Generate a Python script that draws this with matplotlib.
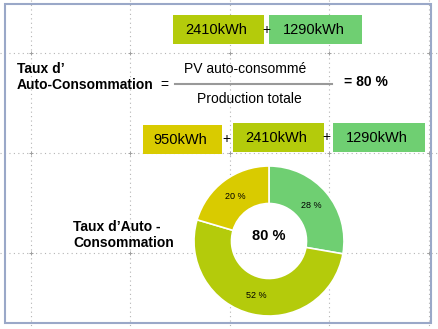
import matplotlib.pyplot as plt
from matplotlib.patches import Rectangle

plt.rcParams['font.family'] = ['Liberation Sans', 'DejaVu Sans']

# energy values (kWh)
sources = ["Réseau", "PV autoconsommé", "PV injecté"]
energy = [950, 2410, 1290]
colors = ["#d9cb00", "#b4cb0b", "#6fcf72"]
grid_x = [31, 130, 230, 329, 429]
grid_y = [53, 153, 253]

total = sum(energy)
taux = (energy[1] + energy[2]) / total * 100

fig = plt.figure(figsize=(4.38, 3.29), dpi=100)
ax = fig.add_axes([0, 0, 1, 1])
ax.set_xlim(0, 438)
ax.set_ylim(329, 0)
ax.axis("off")

# dotted background grid
for gx in grid_x:
    ax.plot([gx, gx], [0, 329], color="#b4b4b4", lw=0.8, ls=(0, (1, 3)), zorder=0)
for gy in grid_y:
    ax.plot([0, 438], [gy, gy], color="#b4b4b4", lw=0.8, ls=(0, (1, 3)), zorder=0)
for gx in grid_x:
    for gy in grid_y:
        ax.plot(gx, gy, marker="+", ms=3, mew=0.7, color="#a0a0a0", zorder=0)

# frame
ax.add_patch(Rectangle((5, 4), 426, 319, fill=False, ec="#9aa8c8", lw=1.5, zorder=1))

def box(x0, y0, x1, y1, c, txt, fs):
    ax.add_patch(Rectangle((x0, y0), x1 - x0, y1 - y0, fc=c, ec="none", zorder=2))
    ax.text((x0 + x1) / 2 - 2, (y0 + y1) / 2, txt, ha="center", va="center", fontsize=fs, zorder=3)

# numerator boxes
box(173, 15, 264, 44, colors[1], f"{energy[1]}kWh", 10.5)
ax.text(266, 30, "+", ha="center", va="center", fontsize=10)
box(269, 15, 362, 44, colors[2], f"{energy[2]}kWh", 10.5)

# formula
ax.text(17, 69, "Taux d’", ha="left", va="center", fontsize=10, fontweight="bold")
ax.text(17, 85, "Auto-Consommation", ha="left", va="center", fontsize=10, fontweight="bold")
ax.text(160, 85, "=", ha="left", va="center", fontsize=10)
ax.plot([175, 332], [84, 84], color="#999999", lw=1.5)
ax.text(245, 69, "PV auto-consommé", ha="center", va="center", fontsize=10)
ax.text(249, 99, "Production totale", ha="center", va="center", fontsize=10)
ax.text(344, 82, f"= {taux:.0f} %", ha="left", va="center", fontsize=10, fontweight="bold")

# denominator boxes
box(143, 125, 222, 154, colors[0], f"{energy[0]}kWh", 10.5)
ax.text(226, 139, "+", ha="center", va="center", fontsize=10)
box(233, 123, 324, 152, colors[1], f"{energy[1]}kWh", 10.5)
ax.text(326, 137, "+", ha="center", va="center", fontsize=10)
box(333, 123, 425, 152, colors[2], f"{energy[2]}kWh", 10.5)

# donut label
ax.text(73, 227, "Taux d’Auto -", ha="left", va="center", fontsize=10, fontweight="bold")
ax.text(73, 243, "Consommation", ha="left", va="center", fontsize=10, fontweight="bold")

# donut
pax = fig.add_axes([194 / 438, (329 - 316) / 329, 150 / 438, 150 / 329])
order = [2, 1, 0]
wedges, texts, autotexts = pax.pie(
    [energy[i] for i in order],
    colors=[colors[i] for i in order],
    startangle=90,
    counterclock=False,
    autopct="%.0f %%",
    pctdistance=0.74,
    wedgeprops=dict(width=0.5, edgecolor="white", linewidth=1.2),
    textprops=dict(fontsize=6.5),
)
pax.set_xlim(-1, 1)
pax.set_ylim(-1, 1)
pax.set_aspect("equal")
pax.text(0, 0.06, f"{taux:.0f} %", ha="center", va="center", fontsize=10.5, fontweight="bold")

fig.savefig("out.png", dpi=100)
